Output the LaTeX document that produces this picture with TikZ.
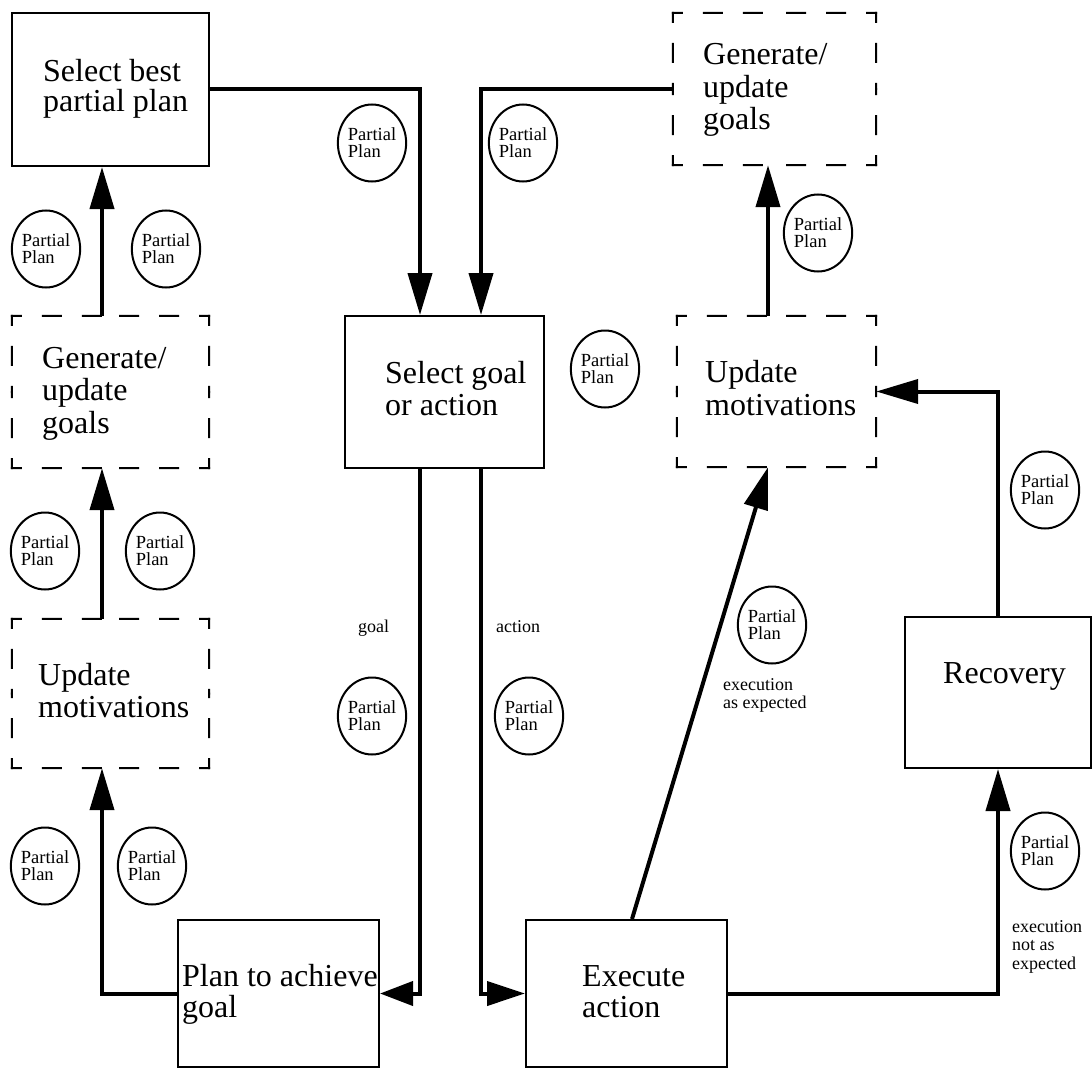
\documentclass[tikz,border=0pt]{standalone}
\usepackage{fontspec}
\setmainfont{Liberation Serif}
\usetikzlibrary{arrows.meta,shapes.geometric,calc}
% multi-line labels whose reference point is the first baseline
\newcommand{\boxlines}[2]{\parbox[t]{260pt}{\fontsize{32}{#1}\selectfont #2}}
\newcommand{\notelines}[1]{\parbox[t]{120pt}{\fontsize{18}{18.5}\selectfont #1}}
% one side of a dashed frame, dashed from both corners towards its middle
\newcommand{\dashside}[2]{%
  \draw[dashline] (#1) -- ($(#1)!0.5!(#2)$);
  \draw[dashline] (#2) -- ($(#1)!0.5!(#2)$);}
\newcommand{\dashframe}[1]{%
  \dashside{#1.north west}{#1.north east}
  \dashside{#1.north east}{#1.south east}
  \dashside{#1.south east}{#1.south west}
  \dashside{#1.south west}{#1.north west}}
\begin{document}
\begin{tikzpicture}[x=1pt,y=-1pt,
  solidbox/.style={draw, line width=2pt, inner sep=0pt, rectangle},
  dashbox/.style={inner sep=0pt, rectangle},
  dashline/.style={line width=2pt, line cap=rect, dash pattern=on 18pt off 22pt, dash phase=9pt},
  conn/.style={line width=4pt, -{Triangle[length=42pt,width=24pt]}},
  shortconn/.style={line width=4pt, -{Triangle[length=#1,width=24pt]}},
  pp/.style={draw, ellipse, line width=2pt, minimum width=68pt, minimum height=77pt,
    inner sep=0pt, align=left, font=\fontsize{18.5}{17}\selectfont},
  txt/.style={inner sep=0pt, anchor=base west}]
\useasboundingbox (0,0) rectangle (1092,1070);

% process boxes
\node[solidbox, minimum width=197pt, minimum height=153pt] (selbest) at (110.5,89.5) {};
\node[dashbox,  minimum width=197pt, minimum height=152pt] (genleft) at (110.5,392) {};
\node[dashbox,  minimum width=197pt, minimum height=149pt] (updleft) at (110.5,693.5) {};
\node[solidbox, minimum width=201pt, minimum height=147pt] (plan) at (278.5,993.5) {};
\node[solidbox, minimum width=199pt, minimum height=152pt] (selgoal) at (444.5,392) {};
\node[solidbox, minimum width=201pt, minimum height=147pt] (exec) at (626.5,993.5) {};
\node[dashbox,  minimum width=203pt, minimum height=152pt] (genright) at (774.5,89) {};
\node[dashbox,  minimum width=199pt, minimum height=151pt] (updright) at (776.5,391.5) {};
\node[solidbox, minimum width=186pt, minimum height=151pt] (recov) at (998,692.5) {};

\dashframe{genleft}
\dashframe{updleft}
\dashframe{genright}
\dashframe{updright}

% box captions
\node[txt] (selbest-t) at (43,82) {\boxlines{30}{Select best\\partial plan}};
\node[txt] (genleft-t) at (42,368) {\boxlines{32.5}{Generate/\\update\\goals}};
\node[txt] (updleft-t) at (38,685) {\boxlines{32}{Update\\motivations}};
\node[txt] (plan-t) at (182,986) {\boxlines{31}{Plan to achieve\\goal}};
\node[txt] (selgoal-t) at (385,383) {\boxlines{32}{Select goal\\or action}};
\node[txt] (exec-t) at (582,986) {\boxlines{31}{Execute\\action}};
\node[txt] (genright-t) at (703,65) {\boxlines{32.5}{Generate/\\update\\goals}};
\node[txt] (updright-t) at (705,382) {\boxlines{33}{Update\\motivations}};
\node[txt, font=\fontsize{32}{32}\selectfont] (recov-t) at (943,683) {Recovery};

% flow connectors
\draw[conn] (selbest.east) -| ([xshift=-24.5pt]selgoal.north);
\draw[conn] (genright.west) -| ([xshift=36.5pt]selgoal.north);
\draw[conn] ([xshift=-8.5pt]genleft.north) -- ([xshift=-8.5pt]selbest.south);
\draw[conn] ([xshift=-8.5pt]updleft.north) -- ([xshift=-8.5pt]genleft.south);
\draw[conn] (plan.west) -| ([xshift=-8.5pt]updleft.south);
\draw[shortconn=33pt] ([xshift=-24.5pt]selgoal.south) |- (plan.east);
\draw[shortconn=38pt] ([xshift=36.5pt]selgoal.south) |- (exec.west);
\draw[conn] ([xshift=5.5pt]exec.north) -- ([xshift=-8.5pt]updright.south);
\draw[conn] (exec.east) -| (recov.south);
\draw[conn] (recov.north) |- (updright.east);
\draw[conn] ([xshift=-8.5pt]updright.north) -- ([xshift=-6.5pt]genright.south);

% connector labels
\node[txt, font=\fontsize{18}{18.5}\selectfont] (goal-l) at (358,632) {goal};
\node[txt, font=\fontsize{18}{18.5}\selectfont] (action-l) at (496,632) {action};
\node[txt] (asexp-l) at (723,690) {\notelines{execution\\as expected}};
\node[txt] (notexp-l) at (1012,932) {\notelines{execution\\not as\\expected}};

% partial plan tokens
\node[pp] (pp1) at (46,249) {Partial\\Plan};
\node[pp] (pp2) at (166,249) {Partial\\Plan};
\node[pp] (pp3) at (372,143) {Partial\\Plan};
\node[pp] (pp4) at (523,143) {Partial\\Plan};
\node[pp] (pp5) at (605,369) {Partial\\Plan};
\node[pp] (pp6) at (818,233) {Partial\\Plan};
\node[pp] (pp7) at (45,551) {Partial\\Plan};
\node[pp] (pp8) at (160,551) {Partial\\Plan};
\node[pp] (pp9) at (45,866) {Partial\\Plan};
\node[pp] (pp10) at (152,866) {Partial\\Plan};
\node[pp] (pp11) at (372,716) {Partial\\Plan};
\node[pp] (pp12) at (529,716) {Partial\\Plan};
\node[pp] (pp13) at (772,625) {Partial\\Plan};
\node[pp] (pp14) at (1045,490) {Partial\\Plan};
\node[pp] (pp15) at (1045,851) {Partial\\Plan};
\end{tikzpicture}
\end{document}
